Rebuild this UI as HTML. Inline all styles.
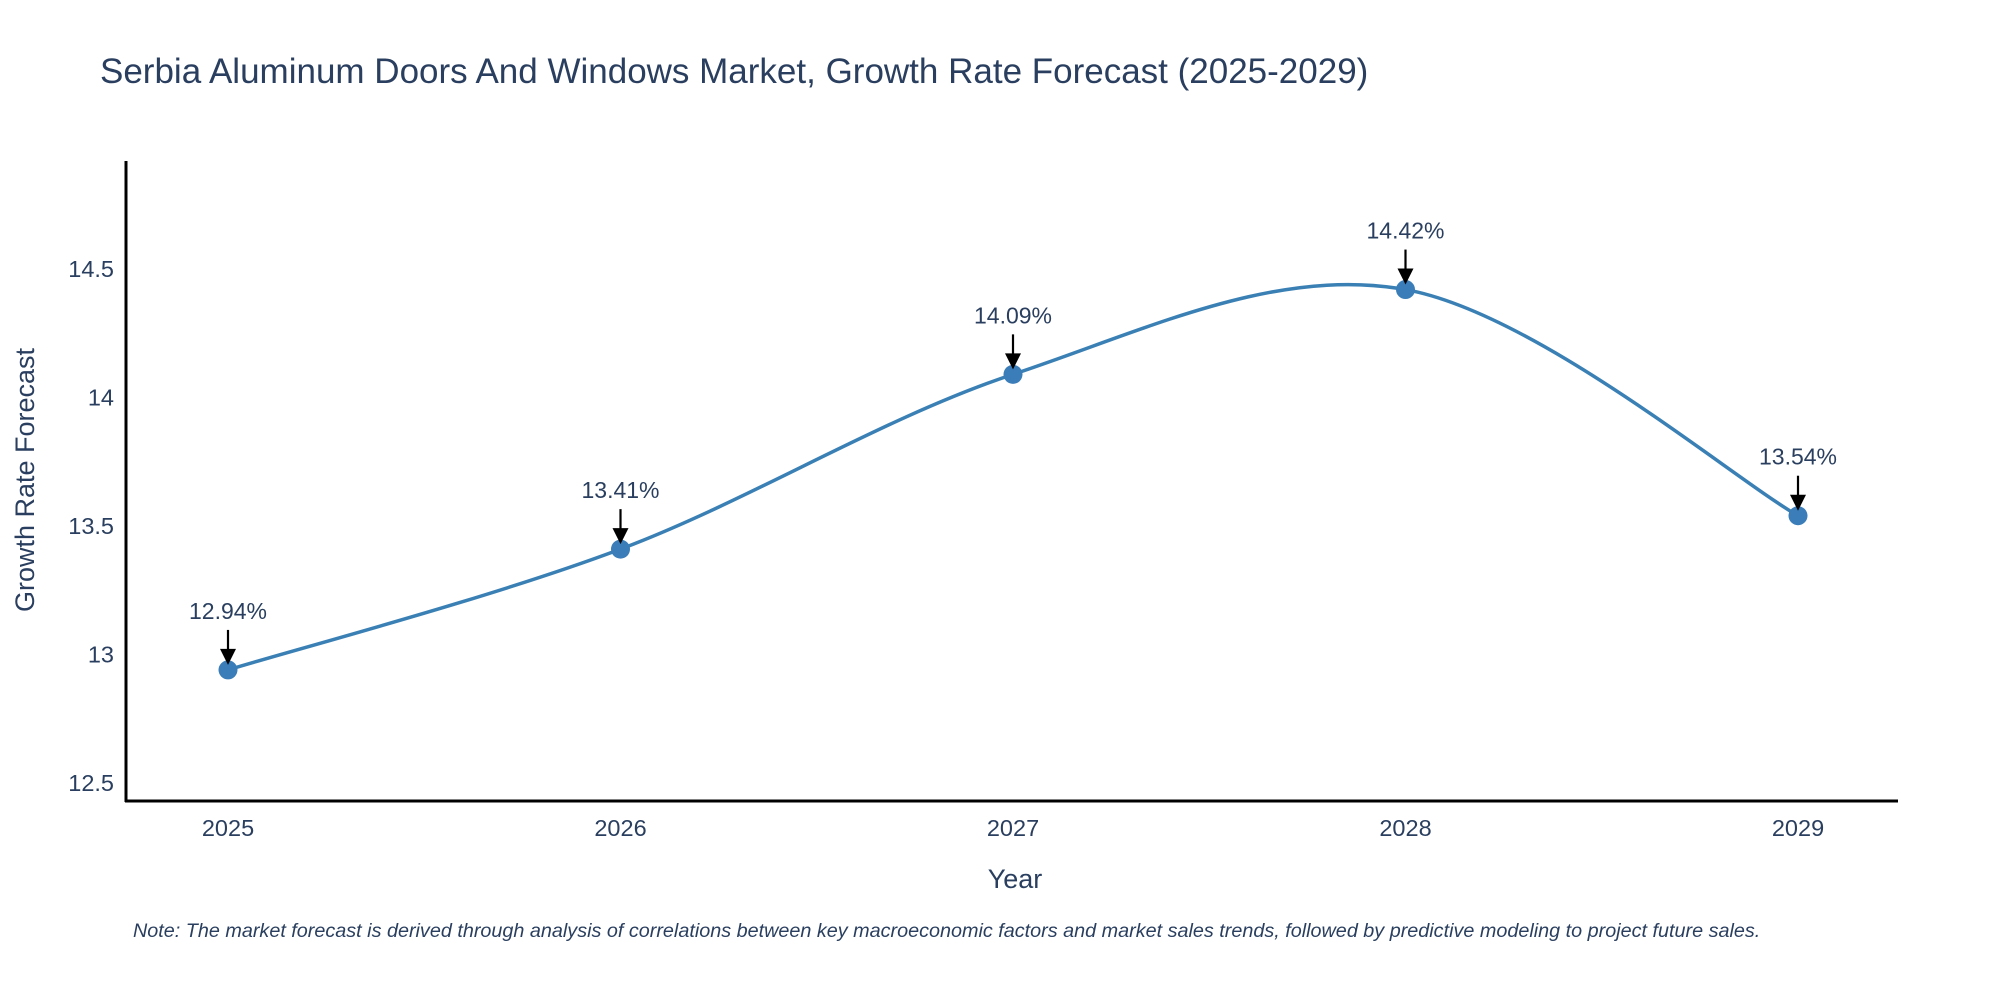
<!DOCTYPE html>
<html><head><meta charset="utf-8">
<style>
html,body{margin:0;padding:0;background:#fff;}
svg text{font-family:"Liberation Sans",sans-serif;}
</style></head>
<body>
<svg id="chart" width="2000" height="1000" viewBox="0 0 2000 1000" xmlns="http://www.w3.org/2000/svg">
<rect width="2000" height="1000" fill="#fff"/>
<text x="100" y="83" font-size="35" fill="#2a3f5f">Serbia Aluminum Doors And Windows Market, Growth Rate Forecast (2025-2029)</text>
<g id="plot"></g>
<text x="1015" y="888" font-size="27" fill="#2a3f5f" text-anchor="middle">Year</text>
<text transform="translate(34,480) rotate(-90)" font-size="27" fill="#2a3f5f" text-anchor="middle">Growth Rate Forecast</text>
<text x="133" y="937" font-size="19.8" font-style="italic" fill="#2a3f5f">Note: The market forecast is derived through analysis of correlations between key macroeconomic factors and market sales trends, followed by predictive modeling to project future sales.</text>
</svg>
<script>
const categories = ["2025","2026","2027","2028","2029"];
const values = [12.94, 13.41, 14.09, 14.42, 13.54];
const valueLabels = ["12.94%","13.41%","14.09%","14.42%","13.54%"];
const yTicks = [12.5, 13, 13.5, 14, 14.5];
const yTickLabels = ["12.5","13","13.5","14","14.5"];

const NS = "http://www.w3.org/2000/svg";
const plot = document.getElementById('plot');
const x0 = 228, xStep = 392.5;
function xScale(i){ return x0 + i * xStep; }
function yScale(v){ return 269 + (14.5 - v) * 257; }
function mk(tag, attrs){ const e = document.createElementNS(NS, tag); for (const k in attrs) e.setAttribute(k, attrs[k]); plot.appendChild(e); return e; }

let ax = mk('line',{x1:126,y1:161,x2:126,y2:802,stroke:'#000','stroke-width':3});


ax = mk('line',{x1:125,y1:801,x2:1898,y2:801,stroke:'#000','stroke-width':3});



yTicks.forEach((t,i)=>{
  const e = mk('text',{x:114,y:yScale(t)+8,'font-size':23.5,fill:'#2a3f5f','text-anchor':'end'});
  e.textContent = yTickLabels[i];
  
  
});
categories.forEach((c,i)=>{
  const e = mk('text',{x:xScale(i),y:836,'font-size':23.5,fill:'#2a3f5f','text-anchor':'middle'});
  e.textContent = c;
  
  
});

const pts = values.map((v,i)=>[xScale(i), yScale(v)]);
let d = `M${pts[0][0]},${pts[0][1]}`;
const tns = 0.5;
for (let i=0;i<pts.length-1;i++){
  const p0 = pts[Math.max(0,i-1)], p1 = pts[i], p2 = pts[i+1], p3 = pts[Math.min(pts.length-1,i+2)];
  const c1 = [p1[0]+(p2[0]-p0[0])*tns/3, p1[1]+(p2[1]-p0[1])*tns/3];
  const c2 = [p2[0]-(p3[0]-p1[0])*tns/3, p2[1]-(p3[1]-p1[1])*tns/3];
  d += ` C${c1[0]},${c1[1]} ${c2[0]},${c2[1]} ${p2[0]},${p2[1]}`;
}
const line = mk('path',{d:d,fill:'none',stroke:'#3a80b5','stroke-width':3.5});



pts.forEach((p,i)=>{
  const c = mk('circle',{cx:p[0],cy:p[1],r:9.5,fill:'#3a7db8'});
  
  
  const a = mk('line',{x1:p[0],y1:p[1]-40,x2:p[0],y2:p[1]-18,stroke:'#000','stroke-width':2.2});
  
  
  const h = mk('path',{d:`M${p[0]-8},${p[1]-21} L${p[0]+8},${p[1]-21} L${p[0]},${p[1]-5} Z`,fill:'#000'});
  
  
  const t = mk('text',{x:p[0],y:p[1]-51,'font-size':23,fill:'#2a3f5f','text-anchor':'middle'});
  t.textContent = valueLabels[i];
  
  
});
</script>
</body></html>
